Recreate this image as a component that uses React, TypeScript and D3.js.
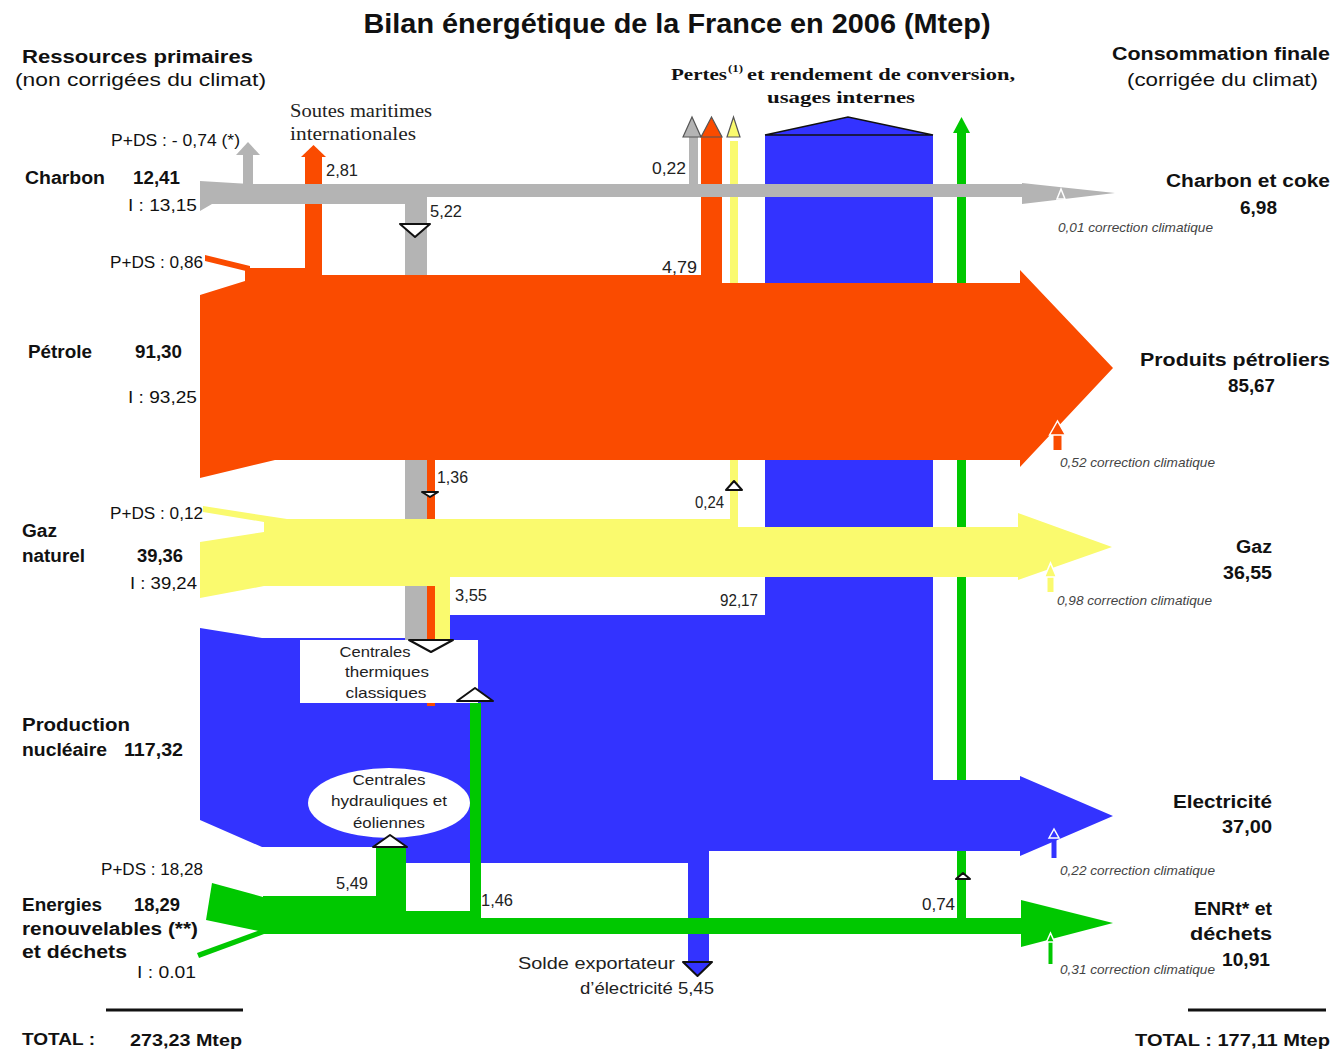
import * as d3 from 'd3';

const fr = d3.formatLocale({decimal: ',', thousands: '\u00a0', grouping: [3], currency: ['', '']});
const num = fr.format('.2f');
const signed = (v: number) => (v < 0 ? '- ' + num(-v) : num(v));

// ressources primaires (Mtep, non corrigées du climat)
const sourceLabels = [['Charbon'], ['Pétrole'], ['Gaz', 'naturel'], ['Production', 'nucléaire'], ['Energies', 'renouvelables (**)', 'et déchets']];
const sourceTotals = [12.41, 91.30, 39.36, 117.32, 18.29];
const sourceImports = [13.15, 93.25, 39.24, null, 0.01];
const sourceStockChanges = [-0.74, 0.86, 0.12, null, 18.28];

// consommation finale (Mtep, corrigée du climat)
const finalLabels = [['Charbon et coke'], ['Produits pétroliers'], ['Gaz'], ['Electricité'], ['ENRt* et', 'déchets']];
const finalValues = [6.98, 85.67, 36.55, 37.00, 10.91];
const climateCorrections = [0.01, 0.52, 0.98, 0.22, 0.31];

// flux intermédiaires
const toThermalPlants = [5.22, 1.36, 3.55];            // charbon, pétrole, gaz
const conversionLosses = [0.22, 4.79, 0.24, 92.17, 0.74]; // charbon, pétrole, gaz, électricité, ENR
const bunkers = 2.81;
const renewToHydro = 5.49;
const renewToThermal = 1.46;
const electricityExport = 5.45;
const totals = [273.23, 177.11];

const C = {gray: '#b4b4b4', orange: '#fa4b00', yellow: '#fafa6e', blue: '#3333ff', green: '#00c800'};
const SANS = '"Liberation Sans", Arial, sans-serif';
const SERIF = '"Liberation Serif", "Times New Roman", serif';

type Pt = [number, number];
const closed = d3.line<Pt>().curve(d3.curveLinearClosed);
const open = d3.line<Pt>();
const box = (x0: number, y0: number, x1: number, y1: number): Pt[] => [[x0, y0], [x1, y0], [x1, y1], [x0, y1]];
const tri = (x0: number, x1: number, base: number, tip: number): Pt[] => [[x0, base], [(x0 + x1) / 2, tip], [x1, base]];

// --- schéma (pixels) ---
const coalBand: Pt[] = [[200, 181], [250, 184], [1022, 184], [1022, 183], [1115, 193], [1022, 204], [1022, 197], [427, 197], [427, 204], [212, 204], [200, 211]];
const oilBand: Pt[] = [[245, 268], [322, 268], [322, 275], [722, 275], [722, 283], [1020, 283], [1020, 270], [1113, 368], [1020, 467], [1020, 460], [275, 460], [200, 478], [200, 295], [245, 281]];
const oilStock: Pt[] = [[205, 255], [250, 266], [250, 272], [205, 261]];
const gasBand: Pt[] = [[264, 519], [738, 519], [738, 527], [1018, 527], [1018, 513], [1112, 547], [1018, 580], [1018, 577], [450, 577], [450, 586], [264, 586], [200, 598], [200, 542], [264, 532]];
const gasStock: Pt[] = [[203, 506], [287, 519], [264, 522], [203, 512]];
const elecShape: Pt[] = [[200, 628], [262, 638], [450, 638], [450, 615], [765, 615], [765, 135], [848, 117], [933, 135], [933, 780], [1020, 780], [1020, 776], [1113, 816], [1020, 856], [1020, 851], [709, 851], [709, 963], [688, 963], [688, 863], [405, 863], [405, 847], [262, 847], [200, 820]];
const renewBand: Pt[] = [[263, 896], [376, 896], [376, 848], [406, 848], [406, 911], [470, 911], [470, 703], [481, 703], [481, 918], [1021, 918], [1021, 900], [1113, 923], [1021, 947], [1021, 934], [263, 934]];
const renewStock: Pt[] = [[212, 883], [263, 897], [263, 932], [206, 920]];
const renewImport: Pt[] = [[197, 953], [263, 929], [264, 934], [199, 958]];

const lossArrows = [
	{c: C.gray, x0: 689, x1: 698, top: 137, bottom: 188, h0: 683, h1: 701},
	{c: C.orange, x0: 701, x1: 722, top: 137, bottom: 283, h0: 701, h1: 722},
	{c: C.yellow, x0: 730, x1: 738, top: 141, bottom: 527, h0: 727, h1: 740},
];
const thermalBars = [
	{c: C.gray, x0: 405, x1: 427, top: 197, bottom: 640},
	{c: C.orange, x0: 427, x1: 435, top: 460, bottom: 706},
	{c: C.yellow, x0: 435, x1: 450, top: 577, bottom: 640},
];
const correctionMarks = [
	{c: C.gray, cx: 1061, hw: 4, tip: 189, base: 199, end: 199},
	{c: C.orange, cx: 1057.5, hw: 8, tip: 421, base: 435, end: 450},
	{c: C.yellow, cx: 1050.5, hw: 6, tip: 563, base: 577, end: 592},
	{c: C.blue, cx: 1054, hw: 5, tip: 829, base: 838, end: 858},
	{c: C.green, cx: 1050.5, hw: 4, tip: 933, base: 942, end: 964},
];
const markers = [
	{p: [[400, 224], [430, 224], [415, 237]] as Pt[], f: '#fff'},
	{p: [[422, 492], [438, 492], [430, 497]] as Pt[], f: '#fff'},
	{p: [[409, 640], [453, 640], [431, 652]] as Pt[], f: '#fff'},
	{p: [[457, 701], [493, 701], [475, 688]] as Pt[], f: '#fff'},
	{p: [[373, 847], [407, 847], [390, 835]] as Pt[], f: '#fff'},
	{p: [[726, 490], [742, 490], [734, 481]] as Pt[], f: '#fff'},
	{p: [[956, 879], [970, 879], [963, 873]] as Pt[], f: '#fff'},
	{p: [[683, 962], [712, 962], [697.5, 976]] as Pt[], f: C.blue},
];

type TP = {t: string, x: number, y: number, a?: string, s?: number, b?: boolean, i?: boolean, serif?: boolean, w?: number, fill?: string};
const leftRows = [184, 358, 537, 731, 911];
const leftValueX = [133, 135, 137, 124, 134];
const leftValueRow = [0, 0, 1, 1, 0];
const leftNameW = [[80], [64], [35, 63], [108, 85], [80, 176, 105]];
const leftValueW = [47, 47, 46, 59, 46];
const stockY = [146, 268, 519, null, 875];
const stockX = [111, 110, 110, null, 101];
const stockW = [129, 93, 93, null, 102];
const importY = [211, 403, 589, null, 978];
const importX = [128, 128, 130, null, 137];
const importW = [69, 69, 67, null, 59];

const rightNameY = [[187], [366], [553], [808], [915, 940]];
const rightNameX = [1330, 1330, 1272, 1272, 1272];
const rightNameW = [[164], [190], [36], [99], [78, 82]];
const rightValue = [{x: 1277, y: 214, w: 37}, {x: 1275, y: 392, w: 47}, {x: 1272, y: 579, w: 49}, {x: 1272, y: 833, w: 50}, {x: 1270, y: 966, w: 48}];
const corrPos = [{x: 1058, y: 232}, {x: 1060, y: 467}, {x: 1057, y: 605}, {x: 1060, y: 875}, {x: 1060, y: 974}];

function buildTexts(): TP[] {
	const out: TP[] = [];
	sourceLabels.forEach((lines, i) => {
		lines.forEach((ln, k) => out.push({t: ln, x: i === 1 ? 28 : i === 0 ? 25 : 22, y: leftRows[i] + k * (i === 4 ? 23.5 : 24.5), s: 18, b: true, w: leftNameW[i][k]}));
		out.push({t: num(sourceTotals[i]), x: leftValueX[i], y: leftRows[i] + leftValueRow[i] * 24.5, s: 18, b: true, w: leftValueW[i]});
		const sc = sourceStockChanges[i];
		if (sc !== null) out.push({t: 'P+DS : ' + signed(sc) + (sc < 0 ? ' (*)' : ''), x: stockX[i]!, y: stockY[i]!, s: 16, w: stockW[i]!});
		const im = sourceImports[i];
		if (im !== null) out.push({t: 'I  : ' + (i === 4 ? '0.01' : num(im)), x: importX[i]!, y: importY[i]!, s: 16, w: importW[i]!});
	});
	finalLabels.forEach((lines, i) => {
		lines.forEach((ln, k) => out.push({t: ln, x: rightNameX[i], y: rightNameY[i][k], a: 'end', s: 18, b: true, w: rightNameW[i][k]}));
		out.push({t: num(finalValues[i]), x: rightValue[i].x, y: rightValue[i].y, a: 'end', s: 18, b: true, w: rightValue[i].w});
		out.push({t: num(climateCorrections[i]) + ' correction climatique', x: corrPos[i].x, y: corrPos[i].y, s: 13, i: true, w: 155, fill: '#444'});
	});
	const flows: TP[] = [
		{t: num(bunkers), x: 326, y: 176, w: 32},
		{t: num(toThermalPlants[0]), x: 430, y: 217, w: 32},
		{t: num(conversionLosses[0]), x: 686, y: 174, a: 'end', w: 34},
		{t: num(conversionLosses[1]), x: 697, y: 273, a: 'end', w: 35},
		{t: num(toThermalPlants[1]), x: 437, y: 483, w: 31},
		{t: num(conversionLosses[2]), x: 724, y: 508, a: 'end', w: 29},
		{t: num(toThermalPlants[2]), x: 455, y: 601, w: 32},
		{t: num(conversionLosses[3]), x: 758, y: 606, a: 'end', w: 38},
		{t: num(renewToHydro), x: 336, y: 889, w: 32},
		{t: num(renewToThermal), x: 481, y: 906, w: 32},
		{t: num(conversionLosses[4]), x: 955, y: 910, a: 'end', w: 33},
	];
	flows.forEach(f => out.push({...f, s: 16, fill: '#222'}));
	out.push({t: 'Solde exportateur', x: 675, y: 969, a: 'end', s: 17, w: 157, fill: '#222'});
	out.push({t: 'd\u2019électricité ' + num(electricityExport), x: 714, y: 994, a: 'end', s: 17, w: 134, fill: '#222'});
	out.push({t: 'TOTAL :', x: 22, y: 1045, s: 17, b: true, w: 73});
	out.push({t: fr.format('.2f')(totals[0]) + ' Mtep', x: 130, y: 1046, s: 17, b: true, w: 112});
	out.push({t: 'TOTAL : ' + num(totals[1]) + ' Mtep', x: 1330, y: 1046, a: 'end', s: 17, b: true, w: 195});
	// en-têtes
	out.push({t: 'Bilan énergétique de la France en 2006 (Mtep)', x: 677, y: 33, a: 'middle', s: 27, b: true, w: 627});
	out.push({t: 'Ressources primaires', x: 22, y: 63, s: 18, b: true, w: 231});
	out.push({t: '(non corrigées du climat)', x: 15, y: 86, s: 19, w: 251});
	out.push({t: 'Consommation finale', x: 1330, y: 60, a: 'end', s: 19, b: true, w: 218});
	out.push({t: '(corrigée du climat)', x: 1318, y: 86, a: 'end', s: 19, w: 191});
	out.push({t: 'Pertes', x: 671, y: 80, s: 17, b: true, serif: true, w: 56});
	out.push({t: '(1)', x: 728, y: 72, s: 10, b: true, serif: true, w: 15});
	out.push({t: 'et rendement de conversion,', x: 747, y: 80, s: 17, b: true, serif: true, w: 268});
	out.push({t: 'usages internes', x: 767, y: 103, s: 17, b: true, serif: true, w: 148});
	out.push({t: 'Soutes maritimes', x: 290, y: 117, s: 18, serif: true, w: 142, fill: '#222'});
	out.push({t: 'internationales', x: 290, y: 140, s: 18, serif: true, w: 126, fill: '#222'});
	// centrales
	out.push({t: 'Centrales', x: 375, y: 657, a: 'middle', s: 15, w: 71, fill: '#222'});
	out.push({t: 'thermiques', x: 387, y: 677, a: 'middle', s: 15, w: 84, fill: '#222'});
	out.push({t: 'classiques', x: 386, y: 698, a: 'middle', s: 15, w: 81, fill: '#222'});
	out.push({t: 'Centrales', x: 389, y: 785, a: 'middle', s: 15, w: 73, fill: '#222'});
	out.push({t: 'hydrauliques et', x: 389, y: 806, a: 'middle', s: 15, w: 116, fill: '#222'});
	out.push({t: 'éoliennes', x: 389, y: 828, a: 'middle', s: 15, w: 72, fill: '#222'});
	return out;
}

function T({t, x, y, a, s, b, i, serif, w, fill}: TP){
	return (<text x={x} y={y} textAnchor={a || 'start'} fontSize={s || 16}
	              fontWeight={b ? 'bold' : 'normal'} fontStyle={i ? 'italic' : 'normal'}
	              fontFamily={serif ? SERIF : SANS} fill={fill || '#111'}
	              textLength={w} lengthAdjust={w ? 'spacingAndGlyphs' : undefined}>{t}</text>);
}

export default function App(){
	const texts = buildTexts();

	return (<svg width={1333} height={1050} viewBox="0 0 1333 1050"
	             style={{position: 'absolute', left: 0, top: 0, background: '#fff'}}>
		<rect width={1333} height={1050} fill="#fff"/>
		{/* ENR vers pertes (sous les bandes) */}
		<path d={closed(box(957, 131, 966, 918))!} fill={C.green}/>
		<path d={closed(tri(953, 970, 133, 117))!} fill={C.green}/>
		{/* pertes de conversion */}
		{lossArrows.map((d, k) => (<g key={k}>
			<path d={closed(box(d.x0, d.top, d.x1, d.bottom))!} fill={d.c}/>
			<path d={closed(tri(d.h0, d.h1, 137, 117))!} fill={d.c} stroke="#555" strokeWidth={1.2}/>
		</g>))}
		{/* électricité */}
		<path d={closed(elecShape)!} fill={C.blue}/>
		<path d={open([[765, 135], [848, 117], [933, 135], [765, 135]])!} fill="none" stroke="#111" strokeWidth={1.5}/>
		{/* vers centrales thermiques */}
		{thermalBars.map((d, k) => (<path key={k} d={closed(box(d.x0, d.top, d.x1, d.bottom))!} fill={d.c}/>))}
		{/* ENR */}
		<path d={closed(renewBand)!} fill={C.green}/>
		<path d={closed(renewStock)!} fill={C.green}/>
		<path d={closed(renewImport)!} fill={C.green}/>
		{/* gaz */}
		<path d={closed(gasBand)!} fill={C.yellow}/>
		<path d={closed(gasStock)!} fill={C.yellow}/>
		{/* pétrole */}
		<path d={closed(oilBand)!} fill={C.orange}/>
		<path d={closed(oilStock)!} fill={C.orange}/>
		<path d={closed(box(305, 156, 322, 270))!} fill={C.orange}/>
		<path d={closed(tri(301, 326, 157, 145))!} fill={C.orange}/>
		{/* charbon */}
		<path d={closed(coalBand)!} fill={C.gray}/>
		<path d={closed(box(243, 154, 253, 186))!} fill={C.gray}/>
		<path d={closed(tri(236, 260, 155, 142))!} fill={C.gray}/>
		{/* centrales */}
		<rect x={300} y={640} width={178} height={63} fill="#fff"/>
		<ellipse cx={389} cy={803} rx={81} ry={35} fill="#fff"/>
		{markers.map((m, k) => (<path key={k} d={closed(m.p)!} fill={m.f} stroke="#111" strokeWidth={2} strokeLinejoin="round"/>))}
		{/* corrections climatiques */}
		{correctionMarks.map((m, k) => (<g key={k}>
			{m.end > m.base && <path d={closed(box(m.cx - m.hw / 2, m.base, m.cx + m.hw / 2, m.end))!} fill={m.c}/>}
			<path d={closed(tri(m.cx - m.hw, m.cx + m.hw, m.base, m.tip))!} fill={m.c} stroke="#fff" strokeWidth={1.5}/>
		</g>))}
		{/* totaux */}
		<line x1={106} x2={243} y1={1010} y2={1010} stroke="#111" strokeWidth={3}/>
		<line x1={1188} x2={1326} y1={1010} y2={1010} stroke="#111" strokeWidth={3}/>
		{texts.map((t, k) => (<T key={k} {...t}/>))}
	</svg>);
}
